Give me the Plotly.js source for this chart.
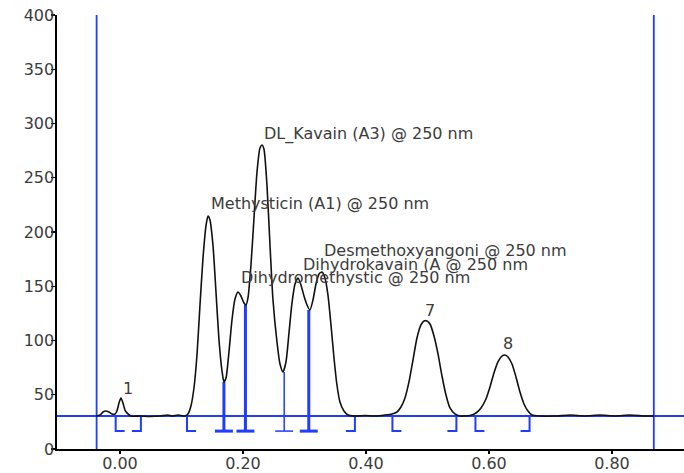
<!DOCTYPE html>
<html>
<head>
<meta charset="utf-8">
<script src="https://cdn.plot.ly/plotly-3.0.1.min.js"></script>
<style>html,body{margin:0;padding:0;background:#fff;}#chart{width:684px;height:473px;}</style>
</head>
<body>
<div id="chart"></div>
<script>
// Chromatogram trace (retention time, signal)
const time = [-0.0390,-0.0325,-0.0276,-0.0228,-0.0179,-0.0130,-0.0081,-0.0049,-0.0016,0.0016,0.0049,0.0081,0.0130,0.0179,0.0325,0.0488,0.0650,0.0780,0.0846,0.0943,0.1057,0.1106,0.1154,0.1203,0.1252,0.1301,0.1350,0.1398,0.1431,0.1463,0.1512,0.1561,0.1610,0.1659,0.1691,0.1724,0.1772,0.1821,0.1870,0.1919,0.1967,0.2016,0.2049,0.2081,0.2130,0.2179,0.2228,0.2276,0.2309,0.2341,0.2390,0.2439,0.2488,0.2553,0.2602,0.2650,0.2699,0.2748,0.2797,0.2846,0.2894,0.2943,0.2992,0.3041,0.3089,0.3138,0.3187,0.3236,0.3285,0.3333,0.3382,0.3431,0.3480,0.3528,0.3577,0.3642,0.3707,0.3821,0.3984,0.4146,0.4309,0.4423,0.4504,0.4569,0.4634,0.4699,0.4764,0.4829,0.4894,0.4943,0.4992,0.5041,0.5106,0.5171,0.5236,0.5301,0.5366,0.5447,0.5528,0.5691,0.5789,0.5870,0.5951,0.6016,0.6081,0.6146,0.6211,0.6260,0.6309,0.6374,0.6439,0.6504,0.6569,0.6634,0.6699,0.6829,0.7073,0.7317,0.7561,0.7805,0.8049,0.8293,0.8537,0.8683];
const signal = [30.4,31.3,34.1,35.0,34.1,32.3,32.3,35.0,42.4,47.0,42.4,35.9,32.3,30.4,30.4,30.0,30.4,31.3,30.4,31.3,30.4,32.3,39.6,56.2,86.6,132.7,176.0,205.5,214.7,211.1,188.0,144.7,100.5,71.9,61.8,65.4,89.4,118.9,138.2,144.7,141.0,134.6,132.7,139.2,169.6,212.9,255.3,277.4,280.2,276.5,243.3,188.0,137.3,98.6,78.3,71.0,80.2,106.9,134.6,152.1,157.6,151.2,141.0,132.7,128.1,137.3,152.1,161.3,163.1,157.6,141.9,114.3,83.9,59.0,43.3,35.0,31.3,30.4,30.9,30.4,31.3,32.3,34.1,38.7,47.0,61.8,82.0,102.3,114.3,118.0,118.0,115.2,104.1,87.6,67.3,49.8,37.8,32.3,30.4,30.9,33.2,37.8,46.1,57.1,70.0,80.2,85.7,86.6,84.8,78.3,66.4,52.5,41.5,35.0,31.3,30.4,30.4,31.3,30.4,31.3,30.4,31.3,30.4,30.4];

// Integration events
const baselineLevel = 30.4;
const markerLevel = 16.5;
const peakStarts = [-0.007, 0.109, 0.443, 0.578];
const peakEnds = [0.034, 0.382, 0.547, 0.666];
const dropTimes = [0.169, 0.204, 0.267, 0.307];
const dropTops = [61.8, 132.7, 71.0, 128.1];
const cursorTimes = [-0.038, 0.868];

// Peak labels
const labelTexts = ["1", "Methysticin (A1) @ 250 nm", "DL_Kavain (A3) @ 250 nm", "Dihydromethystic @ 250 nm", "Dihydrokavain (A @ 250 nm", "Desmethoxyangoni @ 250 nm", "7", "8"];
const labelTimes = [0.013, 0.1447, 0.2304, 0.1940, 0.2938, 0.3280, 0.5041, 0.6314];
const labelLevels = [56.2, 226.7, 290.3, 158.1, 170.5, 183.0, 128.0, 97.4];

// Axis ticks
const yTicks = [0, 50, 100, 150, 200, 250, 300, 350, 400];
const xTicks = [0.0, 0.2, 0.4, 0.6, 0.8];

const BLUE = '#1f3cff';
const TXT = '#3c3c3c';
const capW = 0.0146;
const dropStyle = [3, 3, 1.5, 3];

const traces = [];

// cursor vertical lines
cursorTimes.forEach(t => traces.push({
  x: [t, t], y: [0, 400], mode: 'lines', line: {color: BLUE, width: 1.8},
  hoverinfo: 'skip', showlegend: false, cliponaxis: false
}));

// start / end brackets
const bx = [], by = [];
peakStarts.forEach(s => { bx.push(s, s, s + capW, null); by.push(baselineLevel, markerLevel, markerLevel, null); });
peakEnds.forEach(e => { bx.push(e, e, e - capW, null); by.push(baselineLevel, markerLevel, markerLevel, null); });
traces.push({x: bx, y: by, mode: 'lines', line: {color: BLUE, width: 2}, hoverinfo: 'skip', showlegend: false});

// drop lines
dropTimes.forEach((d, i) => {
  traces.push({
    x: [d, d, null, d - capW, d + capW], y: [dropTops[i], markerLevel, null, markerLevel, markerLevel],
    mode: 'lines', line: {color: BLUE, width: dropStyle[i]}, hoverinfo: 'skip', showlegend: false
  });
});

// chromatogram
traces.push({
  x: time, y: signal, mode: 'lines', line: {color: '#111', width: 1.6, shape: 'spline', smoothing: 0.6},
  hoverinfo: 'skip', showlegend: false
});

const annotations = labelTexts.map((t, i) => ({
  x: labelTimes[i], y: labelLevels[i], text: t, showarrow: false,
  xanchor: (t.length === 1 ? 'center' : 'left'), yanchor: 'middle',
  font: {family: 'DejaVu Sans', size: 16, color: TXT}
}));

const layout = {
  width: 684, height: 473,
  margin: {l: 57, r: 0, t: 15, b: 24, pad: 0},
  paper_bgcolor: '#fff', plot_bgcolor: '#fff',
  font: {family: 'DejaVu Sans', size: 16, color: TXT},
  xaxis: {
    range: [-0.1024, 0.9171], tickvals: xTicks, ticktext: xTicks.map(v => v.toFixed(2)),
    showgrid: false, zeroline: false, showline: true, linecolor: '#000', linewidth: 1.6,
    ticks: 'outside', ticklen: 3, tickcolor: '#000', tickwidth: 1.2, ticklabelstandoff: -4,
    tickfont: {family: 'DejaVu Sans', size: 16, color: TXT}
  },
  yaxis: {
    range: [0, 400], tickvals: yTicks,
    showgrid: false, zeroline: false, showline: true, linecolor: '#000', linewidth: 1.6,
    ticks: 'outside', ticklen: 4, tickcolor: '#000', tickwidth: 1.2, ticklabelstandoff: -6,
    tickfont: {family: 'DejaVu Sans', size: 16, color: TXT}
  },
  shapes: [{
    type: 'line', xref: 'paper', x0: 0, x1: 1, yref: 'y', y0: baselineLevel, y1: baselineLevel,
    line: {color: BLUE, width: 1.8}, layer: 'below'
  }],
  annotations: annotations
};

Plotly.newPlot('chart', traces, layout, {staticPlot: true, displayModeBar: false});
</script>
</body>
</html>
